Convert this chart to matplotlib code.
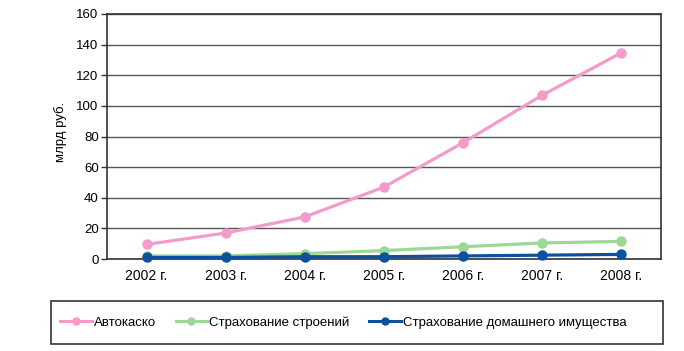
import matplotlib.pyplot as plt
from matplotlib.lines import Line2D
from matplotlib.patches import Rectangle

years = ["2002 г.", "2003 г.", "2004 г.", "2005 г.", "2006 г.", "2007 г.", "2008 г."]
autocasco = [9.5, 17, 27.5, 47, 76, 107, 134.7]
buildings = [2, 2, 3.5, 5.5, 8, 10.5, 11.5]
household = [1, 1, 1.5, 1.5, 2, 2.5, 3]
series_names = ["Автокаско", "Страхование строений", "Страхование домашнего имущества"]
colors = ["#F39BC9", "#9CD896", "#0B519E"]

plt.rcParams['font.family'] = ['Liberation Sans', 'DejaVu Sans']

fig = plt.figure(figsize=(6.84, 3.51), dpi=100)
ax = fig.add_axes([107/684, 1-259/351, (661-107)/684, (259-14)/351])

x = list(range(len(years)))
for vals, c in zip([autocasco, buildings, household], colors):
    ax.plot(x, vals, color=c, lw=2.3, marker='o', ms=6.5, mec=c, mfc=c, zorder=3, clip_on=False)

ax.set_xlim(-0.5, 6.5)
ax.set_ylim(0, 160)
ax.set_yticks(range(0, 161, 20))
ax.set_xticks(x)
ax.set_xticklabels(years, fontsize=10)
ax.tick_params(axis='y', labelsize=9.5, length=4, width=1, color='#333333', pad=2)
ax.tick_params(axis='x', length=0, pad=7)
ax.grid(axis='y', color='#555555', lw=1)
ax.set_axisbelow(True)
for s in ax.spines.values():
    s.set_color('#333333')
    s.set_linewidth(1.2)
ax.set_ylabel("млрд руб.", fontsize=9.5)
ax.yaxis.set_label_coords(-0.072, 0.52)

fig.patches.append(Rectangle((51/684, 1-344/351), (663-51)/684, (344-301)/351,
                             transform=fig.transFigure, fill=False,
                             edgecolor='#333333', lw=1.2))

handles = [Line2D([0], [0], color=c, lw=2.2, marker='o', ms=5, mec=c, mfc=c) for c in colors]
leg = fig.legend(handles, series_names, loc='center left',
                 bbox_to_anchor=(60/684, 1-322.5/351),
                 ncol=3, fontsize=9.5, frameon=False, handlelength=2.4,
                 handletextpad=0.15, borderpad=0, borderaxespad=0,
                 columnspacing=1.5)

fig.savefig("out.png", dpi=100)
